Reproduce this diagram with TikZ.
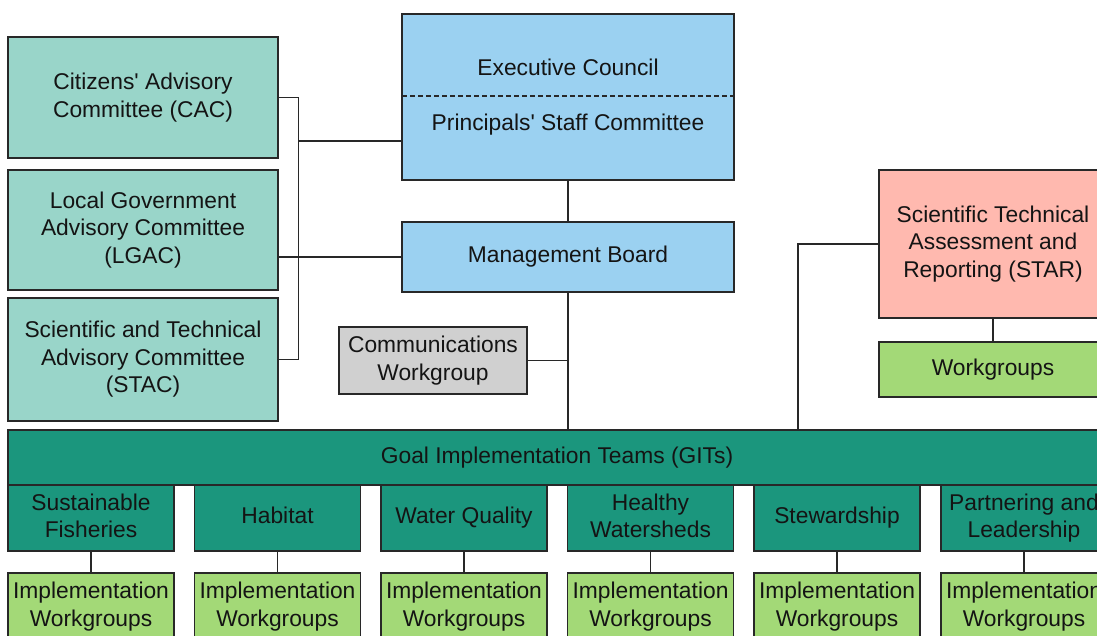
\documentclass[tikz,border=0pt]{standalone}
\usepackage{fontspec}
\setmainfont{Liberation Sans}
\definecolor{advteal}{RGB}{153,213,201}
\definecolor{skyblue}{RGB}{155,209,241}
\definecolor{commgray}{RGB}{208,208,208}
\definecolor{salmon}{RGB}{255,185,175}
\definecolor{leafgreen}{RGB}{163,217,119}
\definecolor{darkteal}{RGB}{27,150,125}
\definecolor{edgegray}{RGB}{40,40,40}
\definecolor{txt}{RGB}{20,20,20}
\tikzset{
  boxbase/.style={draw=edgegray, line width=1.8pt, inner sep=0pt, align=center, text=txt,
    font=\fontsize{22.8}{27.5}\selectfont},
  adv/.style={boxbase, fill=advteal, minimum width=270pt},
  blue/.style={boxbase, fill=skyblue, minimum width=332pt},
  gray/.style={boxbase, fill=commgray},
  star/.style={boxbase, fill=salmon},
  wgbox/.style={boxbase, fill=leafgreen},
  git/.style={boxbase, fill=darkteal},
  sub/.style={boxbase, fill=darkteal, minimum width=166pt, minimum height=66pt},
  impl/.style={boxbase, fill=leafgreen, minimum width=166pt, minimum height=67pt},
  plain/.style={inner sep=0pt, align=center, text=txt, font=\fontsize{22.8}{27.5}\selectfont},
  conn/.style={draw=edgegray, line width=1.8pt}
}
\begin{document}
\begin{tikzpicture}[x=1pt,y=-1pt]
\useasboundingbox (0,0) rectangle (1097,635);
\clip (0,0) rectangle (1097,635);
\fill[white] (0,0) rectangle (1097,635);

% advisory committees
\node[adv, minimum height=121pt] (cac) at (143,97.5) {Citizens\textquotesingle\ Advisory\\Committee (CAC)};
\node[adv, minimum height=120pt] (lgac) at (143,230) {Local Government\\Advisory Committee\\(LGAC)};
\node[adv, minimum height=123pt] (stac) at (143,359.5) {Scientific and Technical\\Advisory Committee\\(STAC)};

% executive council
\node[blue, minimum height=166pt] (exec) at (568,97) {};
\draw[edgegray, line width=1.3pt, dash pattern=on 5pt off 3pt] (402,96) -- (734,96);
\node[plain] (ectext) at (568,67) {Executive Council};
\node[plain] (psctext) at (568,124.5) {Principals\textquotesingle\ Staff Committee};

% management board
\node[blue, minimum height=70pt] (mb) at (568,257) {Management Board};

% communications
\node[gray, minimum width=188pt, minimum height=67pt] (comm) at (433,360.5) {Communications\\Workgroup};

% STAR
\node[star, minimum width=228pt, minimum height=148pt] (star) at (993,244) {Scientific Technical\\Assessment and\\Reporting (STAR)};
\node[wgbox, minimum width=228pt, minimum height=55pt] (wg) at (993,369.5) {Workgroups};

% GIT bar
\node[git, minimum width=1098pt, minimum height=55pt] (gitbar) at (557,457.5) {Goal Implementation Teams (GITs)};

% GIT sub-teams
\node[sub] (s1) at (91,518) {Sustainable\\Fisheries\vphantom{p}};
\node[sub] (s2) at (277.5,518) {Habitat\vphantom{p}};
\node[sub] (s3) at (464,518) {Water Quality};
\node[sub] (s4) at (650.5,518) {Healthy\\Watersheds\vphantom{p}};
\node[sub] (s5) at (837,518) {Stewardship};
\node[sub] (s6) at (1024,518) {Partnering and\\Leadership};

\node[impl] (i1) at (91,606.5) {Implementation\\Workgroups};
\node[impl] (i2) at (277.5,606.5) {Implementation\\Workgroups};
\node[impl] (i3) at (464,606.5) {Implementation\\Workgroups};
\node[impl] (i4) at (650.5,606.5) {Implementation\\Workgroups};
\node[impl] (i5) at (837,606.5) {Implementation\\Workgroups};
\node[impl] (i6) at (1024,606.5) {Implementation\\Workgroups};

% connectors
\coordinate (bk) at (298.5,141);
\draw[conn] (cac.east) -| (bk);
\draw[conn] (stac.east) -| (bk);
\draw[conn] (bk) -- (bk -| exec.west);
\draw[conn] (mb.west) -- (mb.west -| lgac.east);
\draw[conn] (exec.south) -- (mb.north);
\draw[conn] (mb.south) -- (mb.south |- gitbar.north);
\draw[conn] (comm.east) -- (comm.east -| mb.south);
\coordinate (sk) at (798,430);
\draw[conn] (star.west) -| (sk);
\draw[conn] (star.south) -- (wg.north);
\foreach \k in {1,...,6} {\draw[conn] (s\k.south) -- (i\k.north);}
\end{tikzpicture}
\end{document}
